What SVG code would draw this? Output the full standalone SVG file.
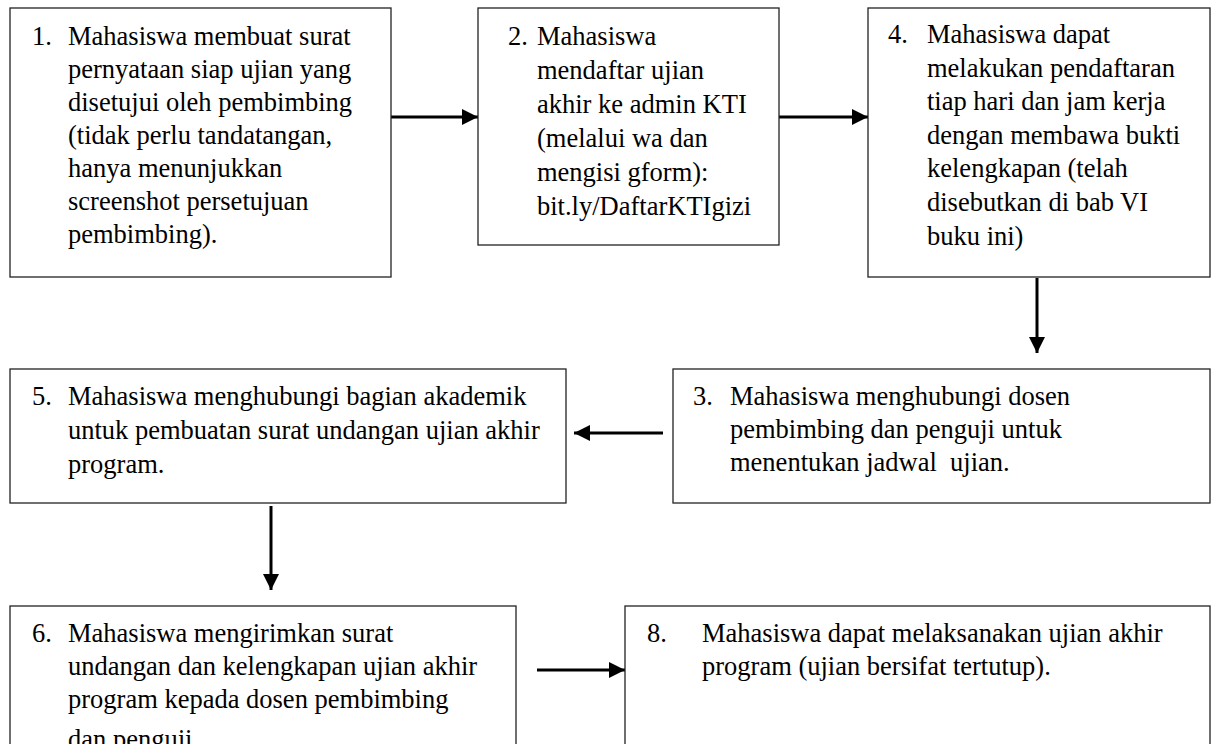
<svg xmlns="http://www.w3.org/2000/svg" width="1216" height="744" viewBox="0 0 1216 744">
<style>
.box{fill:#fff;stroke:#222;stroke-width:1.3}
.t{font-family:"Liberation Serif","Times New Roman",serif;font-size:26.5px;fill:#000}
.c{stroke:#000;stroke-width:3;fill:none;marker-end:url(#ah)}
</style>
<defs>
<marker id="ah" markerUnits="userSpaceOnUse" markerWidth="18" markerHeight="18" refX="16" refY="8" orient="auto">
<path d="M0,0 L16,8 L0,16 Z" fill="#000"/>
</marker>
</defs>
<rect width="1216" height="744" fill="#fff"/>
<g id="connectors">
<line class="c" x1="391" y1="117" x2="478" y2="117"/>
<line class="c" x1="779" y1="117" x2="868" y2="117"/>
<line class="c" x1="1037" y1="278" x2="1037" y2="353"/>
<line class="c" x1="663" y1="433" x2="574" y2="433"/>
<line class="c" x1="271" y1="506" x2="271" y2="590"/>
<line class="c" x1="537" y1="670" x2="625" y2="670"/>
</g>
<g id="node1">
<rect class="box" x="10" y="8" width="381" height="269"/>
<text class="t" x="32" y="45">1.</text>
<text class="t"><tspan x="68" y="45">Mahasiswa membuat surat</tspan><tspan x="68" y="78">pernyataan siap ujian yang</tspan><tspan x="68" y="111">disetujui oleh pembimbing</tspan><tspan x="68" y="144">(tidak perlu tandatangan,</tspan><tspan x="68" y="177">hanya menunjukkan</tspan><tspan x="68" y="210">screenshot persetujuan</tspan><tspan x="68" y="243">pembimbing).</tspan></text>
</g>
<g id="node2">
<rect class="box" x="478" y="8" width="301" height="237"/>
<text class="t" x="508" y="45">2.</text>
<text class="t"><tspan x="537" y="45">Mahasiswa</tspan><tspan x="537" y="79">mendaftar ujian</tspan><tspan x="537" y="113">akhir ke admin KTI</tspan><tspan x="537" y="147">(melalui wa dan</tspan><tspan x="537" y="181">mengisi gform):</tspan><tspan x="537" y="215">bit.ly/DaftarKTIgizi</tspan></text>
</g>
<g id="node4">
<rect class="box" x="868" y="8" width="342" height="269"/>
<text class="t" x="888" y="43">4.</text>
<text class="t"><tspan x="927" y="43">Mahasiswa dapat</tspan><tspan x="927" y="77">melakukan pendaftaran</tspan><tspan x="927" y="110">tiap hari dan jam kerja</tspan><tspan x="927" y="144">dengan membawa bukti</tspan><tspan x="927" y="177">kelengkapan (telah</tspan><tspan x="927" y="211">disebutkan di bab VI</tspan><tspan x="927" y="245">buku ini)</tspan></text>
</g>
<g id="node5">
<rect class="box" x="10" y="369" width="556" height="134"/>
<text class="t" x="32" y="405">5.</text>
<text class="t"><tspan x="68" y="405">Mahasiswa menghubungi bagian akademik</tspan><tspan x="68" y="439">untuk pembuatan surat undangan ujian akhir</tspan><tspan x="68" y="473">program.</tspan></text>
</g>
<g id="node3">
<rect class="box" x="673" y="369" width="537" height="134"/>
<text class="t" x="693" y="405">3.</text>
<text class="t" xml:space="preserve"><tspan x="730" y="405">Mahasiswa menghubungi dosen</tspan><tspan x="730" y="438">pembimbing dan penguji untuk</tspan><tspan x="730" y="471">menentukan jadwal  ujian.</tspan></text>
</g>
<g id="node6">
<rect class="box" x="10" y="606" width="506" height="150"/>
<text class="t" x="32" y="642">6.</text>
<text class="t"><tspan x="68" y="642">Mahasiswa mengirimkan surat</tspan><tspan x="68" y="675">undangan dan kelengkapan ujian akhir</tspan><tspan x="68" y="708">program kepada dosen pembimbing</tspan><tspan x="68" y="748">dan penguji</tspan></text>
</g>
<g id="node8">
<rect class="box" x="625" y="606" width="585" height="150"/>
<text class="t" x="647" y="642">8.</text>
<text class="t"><tspan x="702" y="642">Mahasiswa dapat melaksanakan ujian akhir</tspan><tspan x="702" y="675">program (ujian bersifat tertutup).</tspan></text>
</g>
</svg>
